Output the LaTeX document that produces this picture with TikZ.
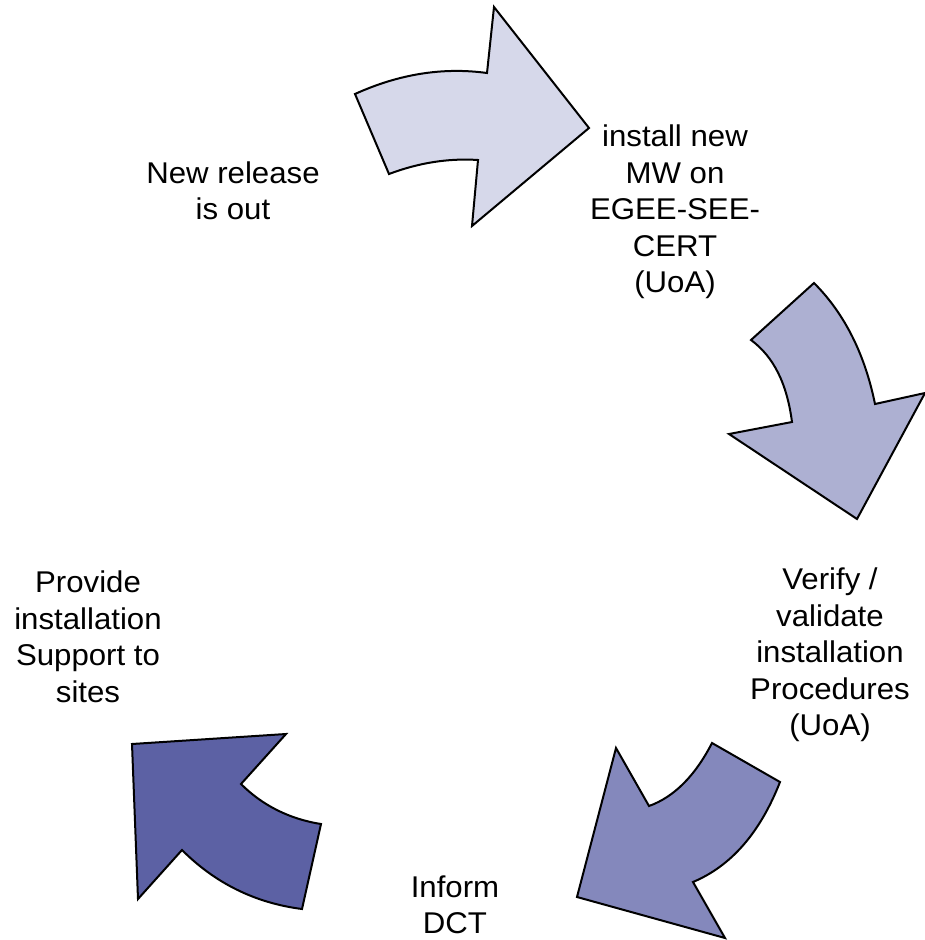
\documentclass[tikz,border=0pt]{standalone}
\usepackage{fontspec}
\setmainfont{Liberation Sans}[FakeStretch=1.04]
\definecolor{arrA}{RGB}{214,216,234}
\definecolor{arrB}{RGB}{173,176,210}
\definecolor{arrC}{RGB}{132,136,188}
\definecolor{arrD}{RGB}{92,97,164}
\tikzset{
  bigarrow/.style={draw=black, line width=2pt, line join=miter},
  lbl/.style={align=center, inner sep=0pt, font=\fontsize{30}{36.5}\selectfont}
}
\begin{document}
\begin{tikzpicture}[x=1pt,y=-1pt]
\useasboundingbox (0,0) rectangle (925,940);
% arrow 1
\path[bigarrow, fill=arrA] (355,94) .. controls (399,74) and (443,67) .. (487,73) -- (494,7) -- (589,128) -- (472,226) -- (478,160) .. controls (448,158) and (418,163) .. (389,174) -- cycle;
% arrow 2
\path[bigarrow, fill=arrB] (751,340) -- (814,283) .. controls (845,314) and (865,355) .. (875,404) -- (925,393) -- (857,519) -- (729,434) -- (792,422) .. controls (787,384) and (774,357) .. (751,340) -- cycle;
% arrow 3
\path[bigarrow, fill=arrC] (712,743) -- (780,782) .. controls (760,833) and (731,866) .. (693,882) -- (725,938) -- (577,897) -- (616,748) -- (649,806) .. controls (674,797) and (695,776) .. (712,743) -- cycle;
% arrow 4
\path[bigarrow, fill=arrD] (132,744) -- (286,734) -- (241,784) .. controls (262,805) and (289,819) .. (321,824) -- (302,909) .. controls (255,903) and (215,883) .. (182,850) -- (138,899) -- cycle;
% labels
\node[lbl] (t1) at (233,191) {New release\\is out};
\node[lbl] (t2) at (675,212) {install new\\MW on\\EGEE-SEE-\\CERT\\(UoA)};
\node[lbl] (t3) at (830,655) {Verify /\\validate\\installation\\Procedures\\(UoA)};
\node[lbl] (t4) at (455,905) {Inform\\DCT};
\node[lbl] (t5) at (88,637) {Provide\\installation\\Support to\\sites};
\end{tikzpicture}
\end{document}
